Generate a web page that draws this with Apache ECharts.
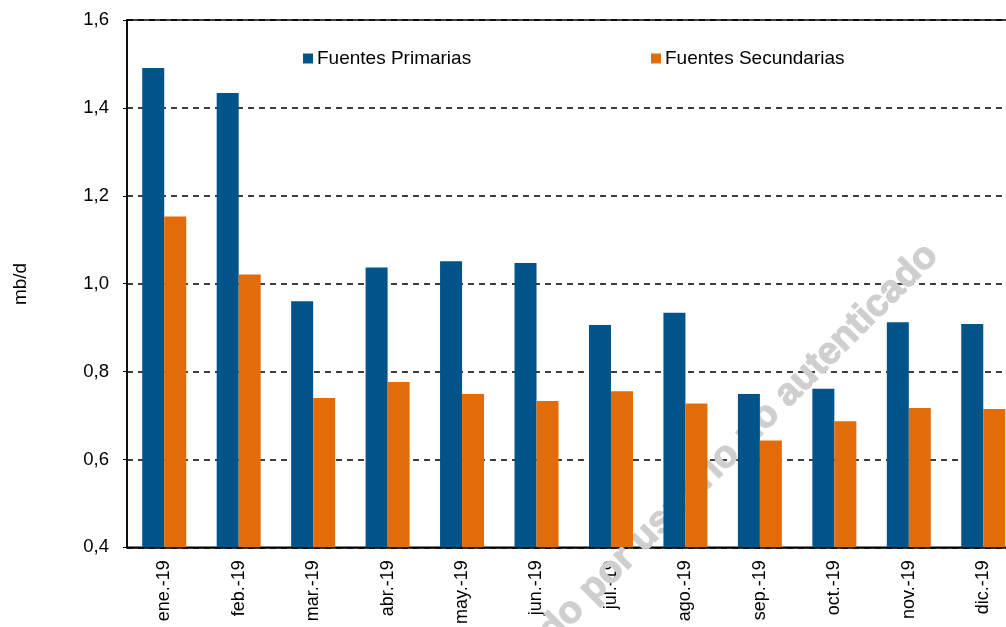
<!DOCTYPE html>
<html>
<head>
<meta charset="utf-8">
<script src="https://cdn.jsdelivr.net/npm/echarts@6/dist/echarts.min.js"></script>
<style>
html,body{margin:0;padding:0;background:#fff;overflow:hidden;width:1006px;height:627px;}
#chart{width:1030px;height:627px;}
</style>
</head>
<body>
<div id="chart"></div>
<script>
const categories = ['ene.-19','feb.-19','mar.-19','abr.-19','may.-19','jun.-19','jul.-19','ago.-19','sep.-19','oct.-19','nov.-19','dic.-19'];
const primarias = [1.491, 1.434, 0.960, 1.037, 1.051, 1.047, 0.906, 0.934, 0.749, 0.761, 0.912, 0.908];
const secundarias = [1.153, 1.021, 0.740, 0.776, 0.749, 0.733, 0.755, 0.727, 0.643, 0.687, 0.717, 0.715];
const yTicks = [0.4, 0.6, 0.8, 1.0, 1.2, 1.4, 1.6];
const seriesNames = ['Fuentes Primarias', 'Fuentes Secundarias'];
const yAxisTitle = 'mb/d';
const watermark = 'Descargado por usuario no autenticado';

const chart = echarts.init(document.getElementById('chart'), null, {renderer: 'canvas'});
const font = 'Liberation Sans, Arial, sans-serif';
chart.setOption({
  animation: false,
  backgroundColor: '#ffffff',
  textStyle: {fontFamily: font},
  grid: {left: 127, top: 20, width: 893.5, height: 529, show: true, borderColor: '#000', borderWidth: 1.5, backgroundColor: 'transparent'},
  legend: [
    {data: [seriesNames[0]], left: 303, top: 49, padding: 0, itemWidth: 10, itemHeight: 10, icon: 'rect',
     textStyle: {fontSize: 19, color: '#000', fontFamily: font, padding: [0,0,0,-1]}},
    {data: [seriesNames[1]], left: 651, top: 49, padding: 0, itemWidth: 10, itemHeight: 10, icon: 'rect',
     textStyle: {fontSize: 19, color: '#000', fontFamily: font, padding: [0,0,0,-1]}}
  ],
  xAxis: {
    type: 'category',
    data: categories,
    axisLine: {show: true, lineStyle: {color: '#000', width: 1.5}},
    axisTick: {show: false},
    axisLabel: {rotate: 90, fontSize: 18, color: '#000', margin: 13, fontFamily: font}
  },
  yAxis: {
    type: 'value',
    min: 0.4, max: 1.6, interval: 0.2,
    axisLine: {show: true, lineStyle: {color: '#000', width: 1.5}},
    axisTick: {show: true, length: 4, lineStyle: {color: '#000'}},
    axisLabel: {fontSize: 18.5, color: '#000', margin: 18, fontFamily: font,
      formatter: v => yTicks.some(t => Math.abs(t - v) < 1e-6) ? v.toFixed(1).replace('.', ',') : ''},
    splitLine: {show: true, lineStyle: {color: '#000', type: [6, 5], width: 1.5}}
  },
  graphic: [
    {type: 'text', x: 21, y: 284, rotation: Math.PI / 2, z: 10,
     style: {text: yAxisTitle, fontSize: 19, fontFamily: font, fill: '#000', align: 'center', verticalAlign: 'middle'}},
    {type: 'text', x: 932, y: 250, rotation: Math.PI / 4, z: 1, silent: true,
     style: {text: watermark, fill: '#cfcfcf', stroke: '#cfcfcf', lineWidth: 1.2, fontSize: 38, fontWeight: 'bold', fontFamily: font, align: 'right', verticalAlign: 'middle'}}
  ],
  series: [
    {name: seriesNames[0], type: 'bar', data: primarias, barWidth: 22, barGap: '0%', itemStyle: {color: '#00548A'}, z: 3},
    {name: seriesNames[1], type: 'bar', data: secundarias, barWidth: 22, barGap: '0%', itemStyle: {color: '#E36C0A'}, z: 3}
  ]
});
</script>
</body>
</html>
